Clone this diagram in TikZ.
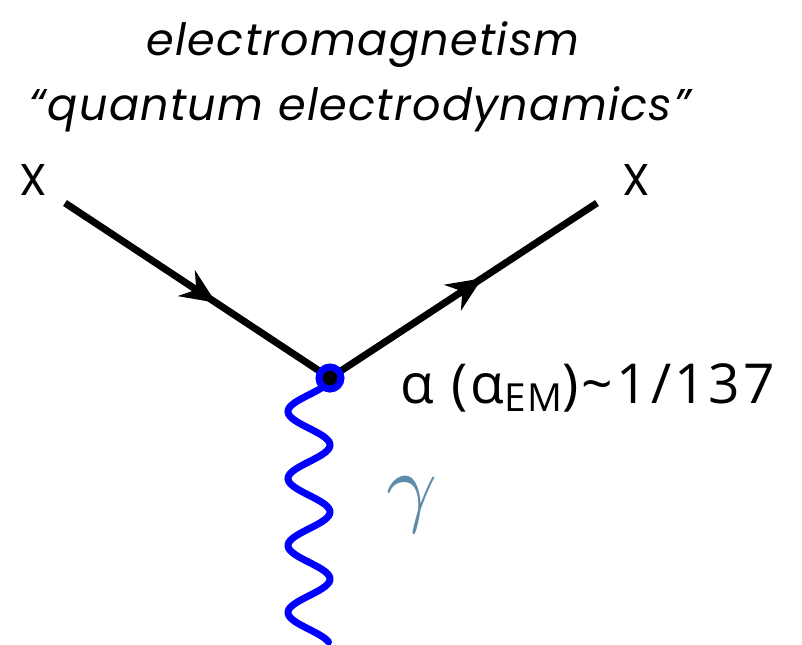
\documentclass[tikz,border=0pt]{standalone}
\usepackage{fontspec}
\setmainfont{Poppins}
\newfontfamily\cplfont[LetterSpace=5.5]{Open Sans}
\newcommand{\emsub}[1]{\raisebox{-7.5pt}{\fontsize{33}{40}\selectfont #1}}
\usetikzlibrary{arrows.meta,decorations.markings,backgrounds}
\definecolor{vtxblue}{RGB}{0,0,255}
\definecolor{gammablue}{RGB}{94,140,168}
\tikzset{
  fermion/.style={line width=6pt,postaction={decorate},
    decoration={markings,mark=at position 0.57 with {\arrow{Stealth[length=30pt,width=26pt]}}}},
  photon/.style={line width=6pt,draw=vtxblue,line cap=round},
  vtxdot/.style={circle,fill=black,draw=vtxblue,line width=6pt,minimum size=18.8pt,inner sep=0pt},
  ttl/.style={font=\fontsize{38}{46}\selectfont\itshape\addfontfeatures{LetterSpace=3},anchor=base,inner sep=0pt},
  plbl/.style={font=\fontsize{38}{46}\selectfont,anchor=base,inner sep=0pt},
  cpl/.style={font=\cplfont\fontsize{47}{56}\selectfont,anchor=base west,inner sep=0pt},
  glbl/.style={text=gammablue,inner sep=0pt}
}
\begin{document}
\begin{tikzpicture}[x=0.03cm,y=-0.03cm]
  \useasboundingbox (0,0) rectangle (802,645);

  % title
  \node[ttl] (ttlone) at (363,55) {electromagnetism};
  \node[ttl] (ttltwo) at (360,120) {“quantum electrodynamics”};

  % particles and vertex
  \node[plbl] (xin) at (33,195) {X};
  \node[plbl] (xout) at (636,195) {X};
  \coordinate (in) at (65,203);
  \coordinate (out) at (597,203);
  \node[vtxdot] (vtx) at (330,378) {};

  \begin{scope}[on background layer]
    \draw[fermion] (in) -- (vtx.center);
    \draw[fermion] (vtx.center) -- (out);
    % photon line
    \begin{scope}[shift={(vtx.center)}]
      \draw[photon] plot[domain=0:264,samples=150,smooth] ({21*cos(\x*5.373)-21},\x) coordinate (pend);
    \end{scope}
  \end{scope}

  \node[cpl] (cpl) at (400,403) {α (α\emsub{EM})\textasciitilde 1/137};
  \node[glbl] (gam) at (412,505) {\scalebox{7.6}{$\gamma$}};
\end{tikzpicture}
\end{document}
